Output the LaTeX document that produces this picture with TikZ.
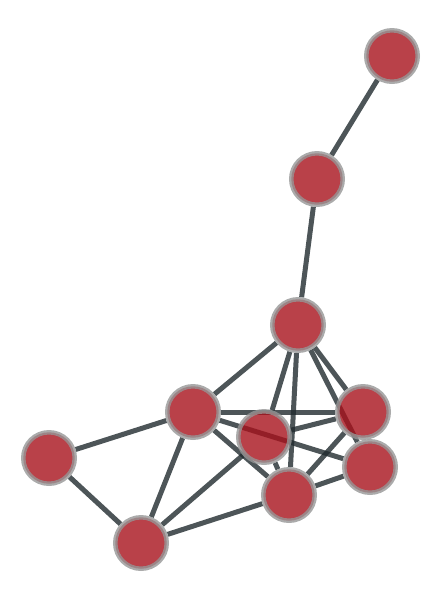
\documentclass[tikz,border=0pt]{standalone}
\usetikzlibrary{backgrounds}

\definecolor{vertexred}{RGB}{167,17,27}
\definecolor{ringgray}{RGB}{150,150,150}
\definecolor{linkgray}{RGB}{32,42,46}

\tikzset{
    vertex/.style={circle, fill=vertexred, draw=ringgray, line width=0.09cm,
        minimum size=1.03cm, inner sep=0pt, opacity=0.8},
    link/.style={draw=linkgray, line width=0.1cm, opacity=0.8}
}

\begin{document}
\begin{tikzpicture}[x=0.02cm, y=-0.02cm]
    \useasboundingbox (0, 0) rectangle (442, 600);

    \node[vertex] (a) at (392, 56) {};
    \node[vertex] (b) at (317, 179) {};
    \node[vertex] (c) at (298, 325) {};
    \node[vertex] (d) at (193, 412) {};
    \node[vertex] (e) at (264, 437) {};
    \node[vertex] (f) at (363, 412) {};
    \node[vertex] (g) at (370, 467) {};
    \node[vertex] (h) at (289, 495) {};
    \node[vertex] (i) at (49, 458) {};
    \node[vertex] (j) at (141, 543) {};

    \begin{pgfonlayer}{background}
        \foreach \from/\to in {a/b, b/c, c/d, c/e, c/f, c/g, c/h,
                d/f, d/g, d/h, d/i, d/j, e/f, e/h, e/j,
                f/h, g/h, h/j, i/j}
            \draw[link] (\from) -- (\to);
    \end{pgfonlayer}
\end{tikzpicture}
\end{document}
